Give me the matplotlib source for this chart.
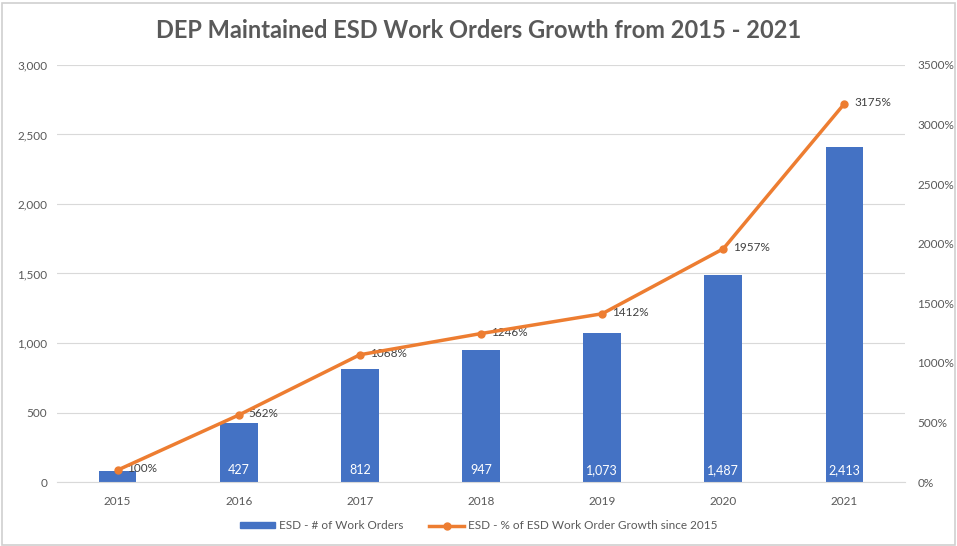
import matplotlib

matplotlib.use("Agg")
import matplotlib.pyplot as plt
from matplotlib.lines import Line2D
from matplotlib.patches import Patch, Rectangle
from matplotlib.ticker import FuncFormatter, MultipleLocator

plt.rcParams["font.family"] = ["Lato", "DejaVu Sans"]

years = ["2015", "2016", "2017", "2018", "2019", "2020", "2021"]
work_orders = [76, 427, 812, 947, 1073, 1487, 2413]
growth_pct = [100, 562, 1068, 1246, 1412, 1957, 3175]
bar_labels = ["", "427", "812", "947", "1,073", "1,487", "2,413"]

BLUE = "#4472C4"
ORANGE = "#ED7D31"
GREY = "#595959"

fig = plt.figure(figsize=(9.57, 5.46), dpi=100)
fig.patches.append(Rectangle((0.002, 0.002), 0.996, 0.993, transform=fig.transFigure,
                             fill=False, edgecolor="#D0D0D0", linewidth=1.2))
ax = fig.add_axes([0.0596, 0.1172, 0.886, 0.7638])
x = list(range(len(years)))

ax.bar(x, work_orders, width=0.31, color=BLUE, zorder=2)
for xi, lab in zip(x, bar_labels):
    if lab:
        ax.text(xi, 45, lab, ha="center", va="bottom", color="white", fontsize=9, zorder=3)

ax.set_xlim(-0.5, len(years) - 0.5)
ax.set_ylim(0, 3000)
ax.yaxis.set_major_locator(MultipleLocator(500))
ax.yaxis.set_major_formatter(FuncFormatter(lambda v, _: f"{v:,.0f}"))
ax.set_xticks(x)
ax.set_xticklabels(years)
ax.grid(axis="y", color="#D9D9D9", linewidth=0.8, zorder=0)
ax.set_axisbelow(True)
for s in ["top", "right", "left"]:
    ax.spines[s].set_visible(False)
ax.spines["bottom"].set_color("#D9D9D9")
ax.tick_params(axis="both", length=0, colors=GREY, labelsize=8.5)
ax.tick_params(axis="x", pad=10)
ax.tick_params(axis="y", pad=7)

ax2 = ax.twinx()
ax2.plot(x, growth_pct, color=ORANGE, linewidth=2.5, marker="o", markersize=5, zorder=4)
for xi, v in zip(x, growth_pct):
    ax2.annotate(f"{v}%", (xi, v), xytext=(7, 1), textcoords="offset points",
                 ha="left", va="center", fontsize=8.5, color="#404040")
ax2.set_ylim(0, 3500)
ax2.yaxis.set_major_locator(MultipleLocator(500))
ax2.yaxis.set_major_formatter(FuncFormatter(lambda v, _: f"{v:.0f}%"))
for s in ax2.spines.values():
    s.set_visible(False)
ax2.tick_params(axis="y", length=0, colors=GREY, labelsize=8.5, pad=9)

fig.suptitle("DEP Maintained ESD Work Orders Growth from 2015 - 2021", y=0.965,
             fontsize=17, fontweight="bold", color=GREY)

handles = [Patch(color=BLUE),
           Line2D([], [], color=ORANGE, linewidth=2.5, marker="o", markersize=5)]
fig.legend(handles, ["ESD - # of Work Orders", "ESD - % of ESD Work Order Growth since 2015"],
           loc="center", bbox_to_anchor=(0.5, 0.037), ncol=2, frameon=False,
           fontsize=8.5, labelcolor=GREY, handlelength=3.0, handleheight=0.5,
           columnspacing=2.2, handletextpad=0.3)

fig.savefig("out.png", dpi=100)
